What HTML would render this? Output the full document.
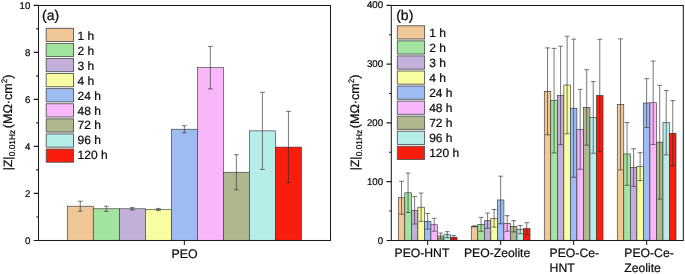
<!DOCTYPE html>
<html lang="en"><head><meta charset="utf-8"><title>Impedance modulus bar charts</title>
<style>html,body{margin:0;padding:0;background:#fff}svg{display:block}text{font-family:'Liberation Sans', sans-serif;fill:#0c0c0c;stroke:#0c0c0c;stroke-width:0.22px;text-rendering:geometricPrecision}</style></head><body>
<svg width="685" height="274" viewBox="0 0 685 274">
<rect width="685" height="274" fill="#fff"/>
<rect x="67.26" y="206.20" width="26.02" height="34.20" fill="#F0C796" stroke="#333" stroke-width="0.62"/>
<rect x="93.28" y="208.79" width="26.02" height="31.61" fill="#A3E3A0" stroke="#333" stroke-width="0.62"/>
<rect x="119.30" y="208.79" width="26.02" height="31.61" fill="#C3B0DA" stroke="#333" stroke-width="0.62"/>
<rect x="145.32" y="209.49" width="26.02" height="30.91" fill="#F9FDA1" stroke="#333" stroke-width="0.62"/>
<rect x="171.34" y="129.22" width="26.02" height="111.18" fill="#9FBCF2" stroke="#333" stroke-width="0.62"/>
<rect x="197.36" y="67.64" width="26.02" height="172.76" fill="#F8B6FB" stroke="#333" stroke-width="0.62"/>
<rect x="223.38" y="172.24" width="26.02" height="68.16" fill="#AEB78D" stroke="#333" stroke-width="0.62"/>
<rect x="249.40" y="130.87" width="26.02" height="109.53" fill="#B7EDE8" stroke="#333" stroke-width="0.62"/>
<rect x="275.42" y="147.09" width="26.02" height="93.31" fill="#FA1C0D" stroke="#333" stroke-width="0.62"/>
<path d="M80.27 201.26V211.14M77.87 201.26h4.8M77.87 211.14h4.8" fill="none" stroke="#2e2e2e" stroke-width="0.65"/>
<path d="M106.29 206.20V211.37M103.89 206.20h4.8M103.89 211.37h4.8" fill="none" stroke="#2e2e2e" stroke-width="0.65"/>
<path d="M132.31 207.61V209.96M129.91 207.61h4.8M129.91 209.96h4.8" fill="none" stroke="#2e2e2e" stroke-width="0.65"/>
<path d="M158.33 208.43V210.55M155.93 208.43h4.8M155.93 210.55h4.8" fill="none" stroke="#2e2e2e" stroke-width="0.65"/>
<path d="M184.35 125.70V132.75M181.95 125.70h4.8M181.95 132.75h4.8" fill="none" stroke="#2e2e2e" stroke-width="0.65"/>
<path d="M210.37 46.37V88.91M207.97 46.37h4.8M207.97 88.91h4.8" fill="none" stroke="#2e2e2e" stroke-width="0.65"/>
<path d="M236.39 154.72V189.75M233.99 154.72h4.8M233.99 189.75h4.8" fill="none" stroke="#2e2e2e" stroke-width="0.65"/>
<path d="M262.41 92.32V169.41M260.01 92.32h4.8M260.01 169.41h4.8" fill="none" stroke="#2e2e2e" stroke-width="0.65"/>
<path d="M288.43 111.36V182.81M286.03 111.36h4.8M286.03 182.81h4.8" fill="none" stroke="#2e2e2e" stroke-width="0.65"/>
<rect x="38.50" y="5.50" width="292.00" height="235.00" fill="none" stroke="#1c1c1c" stroke-width="1.05"/>
<path d="M38.50 240.40h-4.8M38.50 193.39h-4.8M38.50 146.38h-4.8M38.50 99.37h-4.8M38.50 52.36h-4.8M38.50 5.35h-4.8M38.50 216.90h-2.2M38.50 169.88h-2.2M38.50 122.88h-2.2M38.50 75.86h-2.2M38.50 28.85h-2.2M184.35 240.40v4.6" fill="none" stroke="#1c1c1c" stroke-width="1.05"/>
<text x="30.30" y="243.60" font-size="9.7" text-anchor="end">0</text>
<text x="30.30" y="196.59" font-size="9.7" text-anchor="end">2</text>
<text x="30.30" y="149.58" font-size="9.7" text-anchor="end">4</text>
<text x="30.30" y="102.57" font-size="9.7" text-anchor="end">6</text>
<text x="30.30" y="55.56" font-size="9.7" text-anchor="end">8</text>
<text x="30.30" y="8.55" font-size="9.7" text-anchor="end">10</text>
<text x="42.00" y="20.10" font-size="14.0">(a)</text>
<rect x="46.20" y="28.30" width="27.3" height="13.2" fill="#F0C796" stroke="#555" stroke-width="0.9"/>
<text x="77.60" y="39.75" font-size="12">1 h</text>
<rect x="46.20" y="43.39" width="27.3" height="13.2" fill="#A3E3A0" stroke="#555" stroke-width="0.9"/>
<text x="77.60" y="54.70" font-size="12">2 h</text>
<rect x="46.20" y="58.48" width="27.3" height="13.2" fill="#C3B0DA" stroke="#555" stroke-width="0.9"/>
<text x="77.60" y="69.65" font-size="12">3 h</text>
<rect x="46.20" y="73.57" width="27.3" height="13.2" fill="#F9FDA1" stroke="#555" stroke-width="0.9"/>
<text x="77.60" y="84.60" font-size="12">4 h</text>
<rect x="46.20" y="88.66" width="27.3" height="13.2" fill="#9FBCF2" stroke="#555" stroke-width="0.9"/>
<text x="77.60" y="99.55" font-size="12">24 h</text>
<rect x="46.20" y="103.75" width="27.3" height="13.2" fill="#F8B6FB" stroke="#555" stroke-width="0.9"/>
<text x="77.60" y="114.50" font-size="12">48 h</text>
<rect x="46.20" y="118.84" width="27.3" height="13.2" fill="#AEB78D" stroke="#555" stroke-width="0.9"/>
<text x="77.60" y="129.45" font-size="12">72 h</text>
<rect x="46.20" y="133.93" width="27.3" height="13.2" fill="#B7EDE8" stroke="#555" stroke-width="0.9"/>
<text x="77.60" y="144.40" font-size="12">96 h</text>
<rect x="46.20" y="149.02" width="27.3" height="13.2" fill="#FA1C0D" stroke="#555" stroke-width="0.9"/>
<text x="77.60" y="159.35" font-size="12">120 h</text>
<text transform="translate(11.80 170.15) rotate(-90)" font-size="12.0">|Z|</text>
<text transform="translate(14.80 156.3) rotate(-90)" font-size="8.4">0.01Hz</text>
<text transform="translate(11.80 128.2) rotate(-90)" font-size="12.55">(MΩ·cm<tspan font-size="8" dy="-5.3">2</tspan><tspan dy="5.3">)</tspan></text>
<text x="184.5" y="257.5" font-size="12.4" text-anchor="middle">PEO</text>
<rect x="398.27" y="197.74" width="6.53" height="42.66" fill="#F0C796" stroke="#333" stroke-width="0.62"/>
<rect x="404.80" y="192.80" width="6.53" height="47.60" fill="#A3E3A0" stroke="#333" stroke-width="0.62"/>
<rect x="411.33" y="210.25" width="6.53" height="30.15" fill="#C3B0DA" stroke="#333" stroke-width="0.62"/>
<rect x="417.86" y="207.20" width="6.53" height="33.20" fill="#F9FDA1" stroke="#333" stroke-width="0.62"/>
<rect x="424.39" y="221.24" width="6.53" height="19.16" fill="#9FBCF2" stroke="#333" stroke-width="0.62"/>
<rect x="430.92" y="224.77" width="6.53" height="15.63" fill="#F8B6FB" stroke="#333" stroke-width="0.62"/>
<rect x="437.45" y="235.99" width="6.53" height="4.41" fill="#AEB78D" stroke="#333" stroke-width="0.62"/>
<rect x="443.98" y="234.70" width="6.53" height="5.70" fill="#B7EDE8" stroke="#333" stroke-width="0.62"/>
<rect x="450.51" y="237.23" width="6.53" height="3.17" fill="#FA1C0D" stroke="#333" stroke-width="0.62"/>
<path d="M401.53 181.28V214.19M399.13 181.28h4.8M399.13 214.19h4.8" fill="none" stroke="#2e2e2e" stroke-width="0.65"/>
<path d="M408.06 173.12V212.49M405.66 173.12h4.8M405.66 212.49h4.8" fill="none" stroke="#2e2e2e" stroke-width="0.65"/>
<path d="M414.59 196.45V224.06M412.19 196.45h4.8M412.19 224.06h4.8" fill="none" stroke="#2e2e2e" stroke-width="0.65"/>
<path d="M421.12 193.10V221.30M418.72 193.10h4.8M418.72 221.30h4.8" fill="none" stroke="#2e2e2e" stroke-width="0.65"/>
<path d="M427.65 213.37V229.12M425.25 213.37h4.8M425.25 229.12h4.8" fill="none" stroke="#2e2e2e" stroke-width="0.65"/>
<path d="M434.18 218.31V231.23M431.78 218.31h4.8M431.78 231.23h4.8" fill="none" stroke="#2e2e2e" stroke-width="0.65"/>
<path d="M440.71 233.05V238.93M438.31 233.05h4.8M438.31 238.93h4.8" fill="none" stroke="#2e2e2e" stroke-width="0.65"/>
<path d="M447.24 231.70V237.70M444.84 231.70h4.8M444.84 237.70h4.8" fill="none" stroke="#2e2e2e" stroke-width="0.65"/>
<path d="M453.77 235.58V238.87M451.37 235.58h4.8M451.37 238.87h4.8" fill="none" stroke="#2e2e2e" stroke-width="0.65"/>
<rect x="471.26" y="226.30" width="6.53" height="14.10" fill="#F0C796" stroke="#333" stroke-width="0.62"/>
<rect x="477.79" y="224.36" width="6.53" height="16.04" fill="#A3E3A0" stroke="#333" stroke-width="0.62"/>
<rect x="484.32" y="220.71" width="6.53" height="19.69" fill="#C3B0DA" stroke="#333" stroke-width="0.62"/>
<rect x="490.85" y="218.31" width="6.53" height="22.09" fill="#F9FDA1" stroke="#333" stroke-width="0.62"/>
<rect x="497.38" y="199.97" width="6.53" height="40.43" fill="#9FBCF2" stroke="#333" stroke-width="0.62"/>
<rect x="503.91" y="223.48" width="6.53" height="16.92" fill="#F8B6FB" stroke="#333" stroke-width="0.62"/>
<rect x="510.44" y="226.30" width="6.53" height="14.10" fill="#AEB78D" stroke="#333" stroke-width="0.62"/>
<rect x="516.98" y="229.65" width="6.53" height="10.75" fill="#B7EDE8" stroke="#333" stroke-width="0.62"/>
<rect x="523.50" y="228.65" width="6.53" height="11.75" fill="#FA1C0D" stroke="#333" stroke-width="0.62"/>
<path d="M474.53 225.83V226.77M472.13 225.83h4.8M472.13 226.77h4.8" fill="none" stroke="#2e2e2e" stroke-width="0.65"/>
<path d="M481.06 217.42V231.29M478.66 217.42h4.8M478.66 231.29h4.8" fill="none" stroke="#2e2e2e" stroke-width="0.65"/>
<path d="M487.59 213.08V228.35M485.19 213.08h4.8M485.19 228.35h4.8" fill="none" stroke="#2e2e2e" stroke-width="0.65"/>
<path d="M494.12 209.49V227.12M491.72 209.49h4.8M491.72 227.12h4.8" fill="none" stroke="#2e2e2e" stroke-width="0.65"/>
<path d="M500.65 176.17V223.77M498.25 176.17h4.8M498.25 223.77h4.8" fill="none" stroke="#2e2e2e" stroke-width="0.65"/>
<path d="M507.18 215.66V231.29M504.78 215.66h4.8M504.78 231.29h4.8" fill="none" stroke="#2e2e2e" stroke-width="0.65"/>
<path d="M513.71 220.66V231.94M511.31 220.66h4.8M511.31 231.94h4.8" fill="none" stroke="#2e2e2e" stroke-width="0.65"/>
<path d="M520.24 225.53V233.76M517.84 225.53h4.8M517.84 233.76h4.8" fill="none" stroke="#2e2e2e" stroke-width="0.65"/>
<path d="M526.77 222.65V234.64M524.37 222.65h4.8M524.37 234.64h4.8" fill="none" stroke="#2e2e2e" stroke-width="0.65"/>
<rect x="544.26" y="91.38" width="6.53" height="149.02" fill="#F0C796" stroke="#333" stroke-width="0.62"/>
<rect x="550.79" y="100.66" width="6.53" height="139.74" fill="#A3E3A0" stroke="#333" stroke-width="0.62"/>
<rect x="557.32" y="95.43" width="6.53" height="144.97" fill="#C3B0DA" stroke="#333" stroke-width="0.62"/>
<rect x="563.86" y="85.03" width="6.53" height="155.37" fill="#F9FDA1" stroke="#333" stroke-width="0.62"/>
<rect x="570.38" y="108.18" width="6.53" height="132.22" fill="#9FBCF2" stroke="#333" stroke-width="0.62"/>
<rect x="576.91" y="129.34" width="6.53" height="111.06" fill="#F8B6FB" stroke="#333" stroke-width="0.62"/>
<rect x="583.44" y="107.42" width="6.53" height="132.98" fill="#AEB78D" stroke="#333" stroke-width="0.62"/>
<rect x="589.98" y="117.47" width="6.53" height="122.93" fill="#B7EDE8" stroke="#333" stroke-width="0.62"/>
<rect x="596.50" y="95.43" width="6.53" height="144.97" fill="#FA1C0D" stroke="#333" stroke-width="0.62"/>
<path d="M547.53 47.89V134.86M545.13 47.89h4.8M545.13 134.86h4.8" fill="none" stroke="#2e2e2e" stroke-width="0.65"/>
<path d="M554.06 48.36V152.96M551.66 48.36h4.8M551.66 152.96h4.8" fill="none" stroke="#2e2e2e" stroke-width="0.65"/>
<path d="M560.59 46.25V144.62M558.19 46.25h4.8M558.19 144.62h4.8" fill="none" stroke="#2e2e2e" stroke-width="0.65"/>
<path d="M567.12 36.26V133.80M564.72 36.26h4.8M564.72 133.80h4.8" fill="none" stroke="#2e2e2e" stroke-width="0.65"/>
<path d="M573.65 39.14V177.23M571.25 39.14h4.8M571.25 177.23h4.8" fill="none" stroke="#2e2e2e" stroke-width="0.65"/>
<path d="M580.18 89.38V169.30M577.78 89.38h4.8M577.78 169.30h4.8" fill="none" stroke="#2e2e2e" stroke-width="0.65"/>
<path d="M586.71 69.69V145.15M584.31 69.69h4.8M584.31 145.15h4.8" fill="none" stroke="#2e2e2e" stroke-width="0.65"/>
<path d="M593.24 81.62V153.31M590.84 81.62h4.8M590.84 153.31h4.8" fill="none" stroke="#2e2e2e" stroke-width="0.65"/>
<path d="M599.77 39.31V151.55M597.37 39.31h4.8M597.37 151.55h4.8" fill="none" stroke="#2e2e2e" stroke-width="0.65"/>
<rect x="617.26" y="104.36" width="6.53" height="136.04" fill="#F0C796" stroke="#333" stroke-width="0.62"/>
<rect x="623.79" y="153.90" width="6.53" height="86.50" fill="#A3E3A0" stroke="#333" stroke-width="0.62"/>
<rect x="630.32" y="167.53" width="6.53" height="72.87" fill="#C3B0DA" stroke="#333" stroke-width="0.62"/>
<rect x="636.86" y="166.65" width="6.53" height="73.75" fill="#F9FDA1" stroke="#333" stroke-width="0.62"/>
<rect x="643.38" y="103.01" width="6.53" height="137.39" fill="#9FBCF2" stroke="#333" stroke-width="0.62"/>
<rect x="649.91" y="102.72" width="6.53" height="137.68" fill="#F8B6FB" stroke="#333" stroke-width="0.62"/>
<rect x="656.44" y="142.21" width="6.53" height="98.19" fill="#AEB78D" stroke="#333" stroke-width="0.62"/>
<rect x="662.98" y="122.64" width="6.53" height="117.76" fill="#B7EDE8" stroke="#333" stroke-width="0.62"/>
<rect x="669.50" y="133.22" width="6.53" height="107.18" fill="#FA1C0D" stroke="#333" stroke-width="0.62"/>
<path d="M620.53 38.84V169.88M618.13 38.84h4.8M618.13 169.88h4.8" fill="none" stroke="#2e2e2e" stroke-width="0.65"/>
<path d="M627.06 122.52V185.28M624.66 122.52h4.8M624.66 185.28h4.8" fill="none" stroke="#2e2e2e" stroke-width="0.65"/>
<path d="M633.59 148.73V186.34M631.19 148.73h4.8M631.19 186.34h4.8" fill="none" stroke="#2e2e2e" stroke-width="0.65"/>
<path d="M640.12 152.67V180.64M637.72 152.67h4.8M637.72 180.64h4.8" fill="none" stroke="#2e2e2e" stroke-width="0.65"/>
<path d="M646.65 78.63V127.40M644.25 78.63h4.8M644.25 127.40h4.8" fill="none" stroke="#2e2e2e" stroke-width="0.65"/>
<path d="M653.18 61.00V144.44M650.78 61.00h4.8M650.78 144.44h4.8" fill="none" stroke="#2e2e2e" stroke-width="0.65"/>
<path d="M659.71 85.33V199.09M657.31 85.33h4.8M657.31 199.09h4.8" fill="none" stroke="#2e2e2e" stroke-width="0.65"/>
<path d="M666.24 90.44V154.84M663.84 90.44h4.8M663.84 154.84h4.8" fill="none" stroke="#2e2e2e" stroke-width="0.65"/>
<path d="M672.77 100.60V165.83M670.37 100.60h4.8M670.37 165.83h4.8" fill="none" stroke="#2e2e2e" stroke-width="0.65"/>
<rect x="391.30" y="5.50" width="292.00" height="235.00" fill="none" stroke="#1c1c1c" stroke-width="1.05"/>
<path d="M391.30 240.40h-4.8M391.30 181.64h-4.8M391.30 122.88h-4.8M391.30 64.11h-4.8M391.30 5.35h-4.8M391.30 211.02h-2.2M391.30 152.26h-2.2M391.30 93.49h-2.2M391.30 34.73h-2.2M427.65 240.40v4.6M500.65 240.40v4.6M573.65 240.40v4.6M646.65 240.40v4.6" fill="none" stroke="#1c1c1c" stroke-width="1.05"/>
<text x="383.10" y="243.60" font-size="9.7" text-anchor="end">0</text>
<text x="383.10" y="184.84" font-size="9.7" text-anchor="end">100</text>
<text x="383.10" y="126.08" font-size="9.7" text-anchor="end">200</text>
<text x="383.10" y="67.31" font-size="9.7" text-anchor="end">300</text>
<text x="383.10" y="7.75" font-size="9.7" text-anchor="end">400</text>
<text x="396.20" y="19.80" font-size="14.0">(b)</text>
<rect x="397.30" y="25.80" width="27.3" height="13.2" fill="#F0C796" stroke="#555" stroke-width="0.9"/>
<text x="429.20" y="37.25" font-size="12">1 h</text>
<rect x="397.30" y="40.86" width="27.3" height="13.2" fill="#A3E3A0" stroke="#555" stroke-width="0.9"/>
<text x="429.20" y="52.20" font-size="12">2 h</text>
<rect x="397.30" y="55.92" width="27.3" height="13.2" fill="#C3B0DA" stroke="#555" stroke-width="0.9"/>
<text x="429.20" y="67.15" font-size="12">3 h</text>
<rect x="397.30" y="70.98" width="27.3" height="13.2" fill="#F9FDA1" stroke="#555" stroke-width="0.9"/>
<text x="429.20" y="82.10" font-size="12">4 h</text>
<rect x="397.30" y="86.04" width="27.3" height="13.2" fill="#9FBCF2" stroke="#555" stroke-width="0.9"/>
<text x="429.20" y="97.05" font-size="12">24 h</text>
<rect x="397.30" y="101.10" width="27.3" height="13.2" fill="#F8B6FB" stroke="#555" stroke-width="0.9"/>
<text x="429.20" y="112.00" font-size="12">48 h</text>
<rect x="397.30" y="116.16" width="27.3" height="13.2" fill="#AEB78D" stroke="#555" stroke-width="0.9"/>
<text x="429.20" y="126.95" font-size="12">72 h</text>
<rect x="397.30" y="131.22" width="27.3" height="13.2" fill="#B7EDE8" stroke="#555" stroke-width="0.9"/>
<text x="429.20" y="141.90" font-size="12">96 h</text>
<rect x="397.30" y="146.28" width="27.3" height="13.2" fill="#FA1C0D" stroke="#555" stroke-width="0.9"/>
<text x="429.20" y="156.85" font-size="12">120 h</text>
<text transform="translate(359.10 170.15) rotate(-90)" font-size="12.0">|Z|</text>
<text transform="translate(362.10 156.3) rotate(-90)" font-size="8.4">0.01Hz</text>
<text transform="translate(359.10 128.2) rotate(-90)" font-size="12.55">(MΩ·cm<tspan font-size="8" dy="-5.3">2</tspan><tspan dy="5.3">)</tspan></text>
<text x="394.5" y="256.8" font-size="12.2">PEO-HNT</text>
<text x="463.9" y="256.8" font-size="12.2">PEO-Zeolite</text>
<text x="549.6" y="256.8" font-size="12.2">PEO-Ce-</text>
<text x="549.6" y="271.5" font-size="12.2">HNT</text>
<text x="624.3" y="256.8" font-size="12.2">PEO-Ce-</text>
<text x="624.3" y="271.5" font-size="12.2">Zeolite</text>
</svg></body></html>
